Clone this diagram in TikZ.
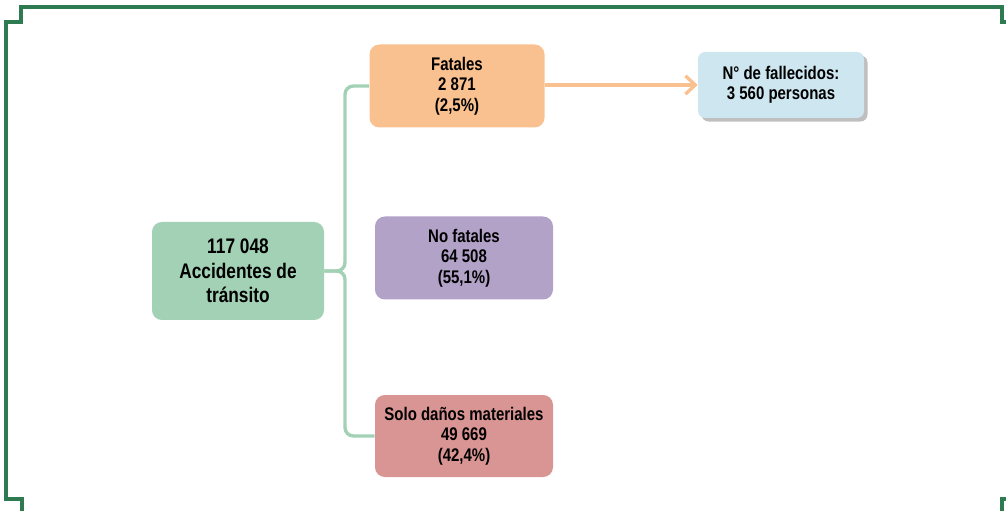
\documentclass[tikz,border=0pt]{standalone}
\usepackage{fontspec}
\setmainfont{Liberation Sans}[FakeStretch=0.82]
\usetikzlibrary{arrows.meta,shadows}
\definecolor{marco}{HTML}{2E7B52}
\definecolor{verde}{HTML}{A3D1B5}
\definecolor{naranja}{HTML}{F9C090}
\definecolor{lila}{HTML}{B2A2C8}
\definecolor{rojo}{HTML}{D99594}
\definecolor{celeste}{HTML}{CDE6EF}
\tikzset{
  caja/.style={rounded corners=7pt,align=center,font=\fontsize{13}{14.6}\selectfont\bfseries,inner sep=0pt},
  llave/.style={verde,line width=2.4pt,rounded corners=6pt},
}
\begin{document}
\begin{tikzpicture}[x=0.025cm,y=-0.025cm]
        \useasboundingbox (0,0) rectangle (1006,511);
        \draw[marco,line width=2.4pt] (22,511) -- (22,499) -- (6,499) -- (6,22) -- (21,22) -- (21,7) -- (1002,7) -- (1002,22) -- (1006,22);
        \draw[marco,line width=2.4pt] (1002,511) -- (1002,499) -- (1006,499);

        \node[caja,fill=verde,minimum width=172*0.025cm,minimum height=98*0.025cm,font=\fontsize{15}{17.4}\selectfont\bfseries] (total) at (238,271){117 048\\Accidentes de\\tránsito};
        \node[caja,fill=naranja,minimum width=175*0.025cm,minimum height=83*0.025cm] (fatales) at (457,86){Fatales\\2 871\\(2,5\%)};
        \node[caja,fill=lila,minimum width=178*0.025cm,minimum height=83*0.025cm] (nofatales) at (464,258){No fatales\\64 508\\(55,1\%)};
        \node[caja,fill=rojo,minimum width=178*0.025cm,minimum height=82*0.025cm] (danos) at (464,436){Solo daños materiales\\49 669\\(42,4\%)};
        \node[caja,fill=celeste,minimum width=166*0.025cm,minimum height=66*0.025cm,rounded corners=5pt,
              drop shadow={shadow xshift=2.5pt,shadow yshift=-2.5pt,opacity=0.5}] (muertos) at (781,85){N° de fallecidos:\\3 560 personas};

        \draw[llave] (total.east) -- (345,271) |- (fatales.west);
        \draw[llave] (total.east) -- (345,271) |- (danos.west);
        \draw[naranja,line width=2.4pt,-{Straight Barb[length=7pt,width=13pt]}] (fatales.east |- muertos.west) -- (muertos.west);
    \end{tikzpicture}
\end{document}
